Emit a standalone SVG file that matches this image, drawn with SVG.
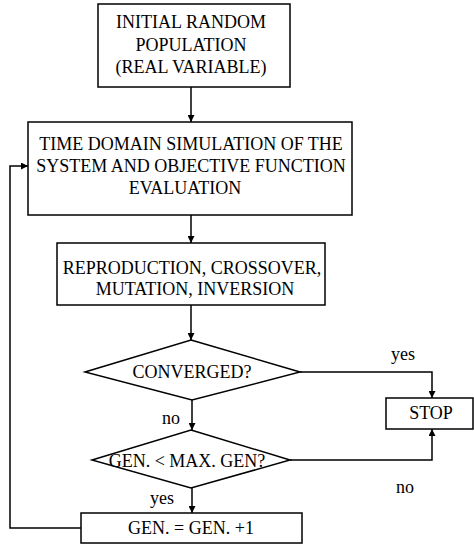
<svg xmlns="http://www.w3.org/2000/svg" width="474" height="547" viewBox="0 0 474 547">
<defs>
<marker id="ah" viewBox="0 0 10 10" refX="10" refY="5" markerWidth="7" markerHeight="7" markerUnits="userSpaceOnUse" orient="auto">
<path d="M0,0 L10,5 L0,10 z" fill="#000"/>
</marker>
<style>
.box{fill:#fff;stroke:#000;stroke-width:1.5}
.t{font-family:"Liberation Serif","Times New Roman",serif;font-size:18px;fill:#000;text-anchor:middle}
.c{fill:none;stroke:#000;stroke-width:1.5;marker-end:url(#ah)}
</style>
</defs>
<rect width="474" height="547" fill="#fff"/>
<g id="connectors">
<path class="c" d="M191,87 V122"/>
<path class="c" d="M191,215 V243"/>
<path class="c" d="M191,305 V340"/>
<path class="c" d="M300,372 H432 V398"/>
<path class="c" d="M192,400 V430"/>
<path class="c" d="M290,460 H432 V429"/>
<path class="c" d="M192,488 V513"/>
<path class="c" d="M81,528 H10 V166 H28"/>
<text class="t" x="403" y="360">yes</text>
<text class="t" x="171" y="424">no</text>
<text class="t" x="405" y="493">no</text>
<text class="t" x="162" y="504">yes</text>
</g>
<g id="init">
<rect class="box" x="98" y="4" width="192" height="83"/>
<text class="t" x="191" y="28">INITIAL RANDOM</text>
<text class="t" x="191" y="51">POPULATION</text>
<text class="t" x="191" y="73">(REAL VARIABLE)</text>
</g>
<g id="sim">
<rect class="box" x="28" y="122" width="324" height="93"/>
<text class="t" x="191" y="150">TIME DOMAIN SIMULATION OF THE</text>
<text class="t" x="191" y="172">SYSTEM AND OBJECTIVE FUNCTION</text>
<text class="t" x="185" y="194">EVALUATION</text>
</g>
<g id="ops">
<rect class="box" x="57" y="243" width="268" height="62"/>
<text class="t" x="192" y="274">REPRODUCTION, CROSSOVER,</text>
<text class="t" x="195" y="295">MUTATION, INVERSION</text>
</g>
<g id="converged">
<polygon class="box" points="191,340 300,372 192,400 85,372"/>
<text class="t" x="192" y="378">CONVERGED?</text>
</g>
<g id="stop">
<rect class="box" x="386" y="398" width="87" height="31"/>
<text class="t" x="431" y="419">STOP</text>
</g>
<g id="maxgen">
<polygon class="box" points="191,430 290,460 191,488 92,460"/>
<text class="t" x="187" y="467">GEN. &lt; MAX. GEN?</text>
</g>
<g id="incr">
<rect class="box" x="81" y="513" width="221" height="30"/>
<text class="t" x="191" y="534">GEN. = GEN. +1</text>
</g>
</svg>
